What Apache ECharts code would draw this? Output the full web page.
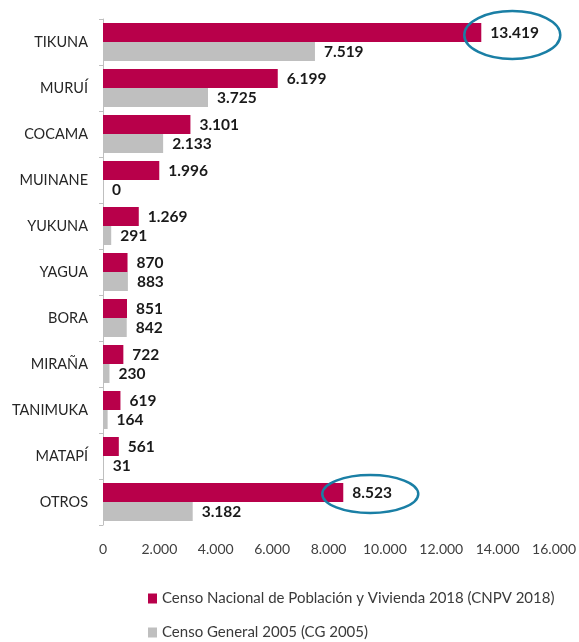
<!DOCTYPE html>
<html>
<head>
<meta charset="utf-8">
<script src="https://cdn.jsdelivr.net/npm/echarts@6/dist/echarts.min.js"></script>
<style>
  html, body { margin: 0; padding: 0; background: #fff; }
  #chart { width: 579px; height: 642px; }
</style>
</head>
<body>
<div id="chart"></div>
<script>
const categories = ["TIKUNA", "MURUÍ", "COCAMA", "MUINANE", "YUKUNA", "YAGUA", "BORA", "MIRAÑA", "TANIMUKA", "MATAPÍ", "OTROS"];
const cnpv2018 = [13419, 6199, 3101, 1996, 1269, 870, 851, 722, 619, 561, 8523];
const cg2005 = [7519, 3725, 2133, 0, 291, 883, 842, 230, 164, 31, 3182];
const xTicks = [0, 2000, 4000, 6000, 8000, 10000, 12000, 14000, 16000];
const highlighted = ["TIKUNA", "OTROS"];

const fmt = (v) => v.toLocaleString("de-DE");
const font = "Lato, 'Open Sans', sans-serif";

const chart = echarts.init(document.getElementById("chart"));

const barLabel = {
  show: true,
  position: "right",
  distance: 9,
  fontFamily: font,
  fontSize: 15.5,
  fontWeight: "bold",
  color: "#1a1a1a",
  formatter: (p) => fmt(p.value),
};

chart.setOption({
  animation: false,
  grid: { left: 103, right: 22, top: 19, bottom: 117 },
  legend: {
    orient: "vertical",
    left: 143,
    bottom: -3,
    itemGap: 19,
    itemWidth: 9,
    itemHeight: 10,
    icon: "rect",
    textStyle: { fontFamily: font, fontSize: 15, color: "#3a3a3a" },
  },
  xAxis: {
    type: "value",
    min: xTicks[0],
    max: xTicks[xTicks.length - 1],
    interval: 2000,
    splitLine: { show: false },
    axisLine: { show: false },
    axisTick: { show: false },
    axisLabel: {
      margin: 17,
      fontFamily: font,
      fontSize: 14,
      color: "#404040",
      formatter: (v) => fmt(v),
    },
  },
  yAxis: {
    type: "category",
    data: categories,
    inverse: true,
    axisLine: { show: true, lineStyle: { color: "#bfbfbf", width: 1 } },
    axisTick: { show: true, length: 4, lineStyle: { color: "#bfbfbf" } },
    axisLabel: { margin: 15, fontFamily: font, fontSize: 14.5, color: "#262626" },
  },
  series: [
    {
      name: "Censo Nacional de Población y Vivienda 2018 (CNPV 2018)",
      type: "bar",
      data: cnpv2018,
      barWidth: 19,
      barGap: "0%",
      itemStyle: { color: "#b8004a" },
      label: barLabel,
    },
    {
      name: "Censo General 2005 (CG 2005)",
      type: "bar",
      data: cg2005,
      barWidth: 19,
      barGap: "0%",
      itemStyle: { color: "#bfbfbf" },
      label: barLabel,
    },
  ],
});

// ellipses around the highlighted values
const ellipses = highlighted.map((cat) => {
  const i = categories.indexOf(cat);
  const [x, y] = chart.convertToPixel({ seriesIndex: 0 }, [cnpv2018[i], cat]);
  const big = cat === "TIKUNA";
  return {
    type: "ellipse",
    shape: { cx: x + (big ? 31 : 27), cy: y - (big ? 7 : 8), rx: 48, ry: big ? 24 : 19 },
    style: { fill: "none", stroke: "#1a7fa5", lineWidth: 2.5 },
    z: 100,
  };
});
chart.setOption({ graphic: ellipses });
</script>
</body>
</html>
